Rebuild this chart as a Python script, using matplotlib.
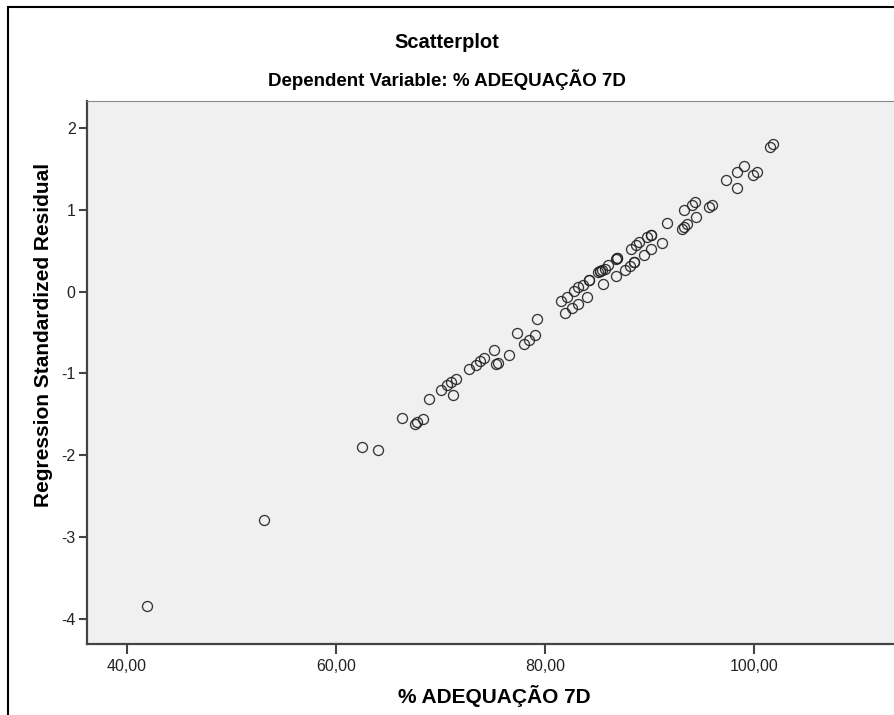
import matplotlib.pyplot as plt
import matplotlib.patches as patches

plt.rcParams['font.family']=['Liberation Sans','DejaVu Sans']
plt.rcParams['axes.unicode_minus']=False

# % ADEQUACAO 7D (x) vs standardized residual (y)
adeq=[41.91,53.13,62.48,64.07,66.30,67.58,67.74,68.31,68.94,70.06,
      70.61,71.02,71.47,71.24,72.77,73.38,73.79,74.20,75.16,75.29,
      75.54,76.59,77.33,78.03,78.51,79.05,79.22,81.49,81.92,82.08,
      82.56,82.78,83.12,83.17,83.64,84.00,84.22,84.22,85.08,85.27,
      85.27,85.46,85.75,85.59,86.06,86.80,86.83,86.87,86.87,87.66,
      88.09,88.47,88.47,88.23,88.71,89.03,89.43,89.80,90.12,90.12,
      90.12,91.15,91.65,93.08,93.30,93.56,93.30,94.04,94.36,94.45,
      95.72,95.95,97.29,98.34,98.34,99.07,99.93,100.26,101.53,101.85]
resid=[-3.846,-2.790,-1.905,-1.942,-1.551,-1.616,-1.596,-1.554,-1.312,-1.200,
       -1.147,-1.107,-1.065,-1.269,-0.943,-0.894,-0.854,-0.813,-0.719,-0.890,
       -0.870,-0.772,-0.511,-0.637,-0.588,-0.536,-0.334,-0.116,-0.258,-0.065,
       -0.205,0.009,-0.157,0.051,0.082,-0.071,0.137,0.137,0.241,0.253,
       0.253,0.265,0.278,0.088,0.320,0.394,0.192,0.406,0.406,0.259,
       0.314,0.357,0.357,0.522,0.565,0.602,0.443,0.669,0.687,0.687,
       0.525,0.596,0.834,0.769,0.791,0.830,0.993,1.054,1.095,0.911,
       1.033,1.063,1.360,1.461,1.271,1.535,1.430,1.461,1.767,1.800]

xticks=[40,60,80,100]
xticklabels=["40,00","60,00","80,00","100,00"]
yticks=[-4,-3,-2,-1,0,1,2]

fig=plt.figure(figsize=(8.94,7.15),dpi=100)
ax=fig.add_axes([0.097,0.0993,0.911,0.7594])
ax.set_facecolor("#f0f0f0")

ax.plot(adeq,resid,"o",markersize=7.2,markerfacecolor="none",
        markeredgecolor="#222222",markeredgewidth=0.95,alpha=0.9)

ax.set_xlim(36.17,114.06)
ax.set_ylim(-4.31,2.33)
ax.set_xticks(xticks)
ax.set_xticklabels(xticklabels)
ax.set_yticks(yticks)
ax.tick_params(axis="x",length=7,width=1.5,color="#444444",labelsize=11.5,labelcolor="#222222",pad=4)
ax.tick_params(axis="y",length=6,width=1.5,color="#444444",labelsize=11.5,labelcolor="#222222",pad=2)

for s in ["left","bottom"]:
  ax.spines[s].set_color("#444444")
  ax.spines[s].set_linewidth(1.6)
ax.spines["top"].set_color("#8a8a8a")
ax.spines["top"].set_linewidth(0.8)
ax.spines["right"].set_visible(False)

fig.text(0.5,1-43/715,"Scatterplot",ha="center",va="center",fontsize=14.5,fontweight="bold")
fig.text(0.5,1-80/715,"Dependent Variable: % ADEQUAÇÃO 7D",ha="center",va="center",fontsize=13.5,fontweight="bold")
fig.text(494/894,1-696/715,"% ADEQUAÇÃO 7D",ha="center",va="center",fontsize=15,fontweight="bold")
fig.text(44/894,1-335/715,"Regression Standardized Residual",ha="center",va="center",rotation=90,fontsize=15,fontweight="bold")

# outer frame of the chart
fig.patches.append(patches.Rectangle((7.5/894,-0.1),1.1,1.1-7.5/715,transform=fig.transFigure,
                   fill=False,edgecolor="black",linewidth=1.5,clip_on=False))

plt.savefig("out.png",format="png",dpi=100)
